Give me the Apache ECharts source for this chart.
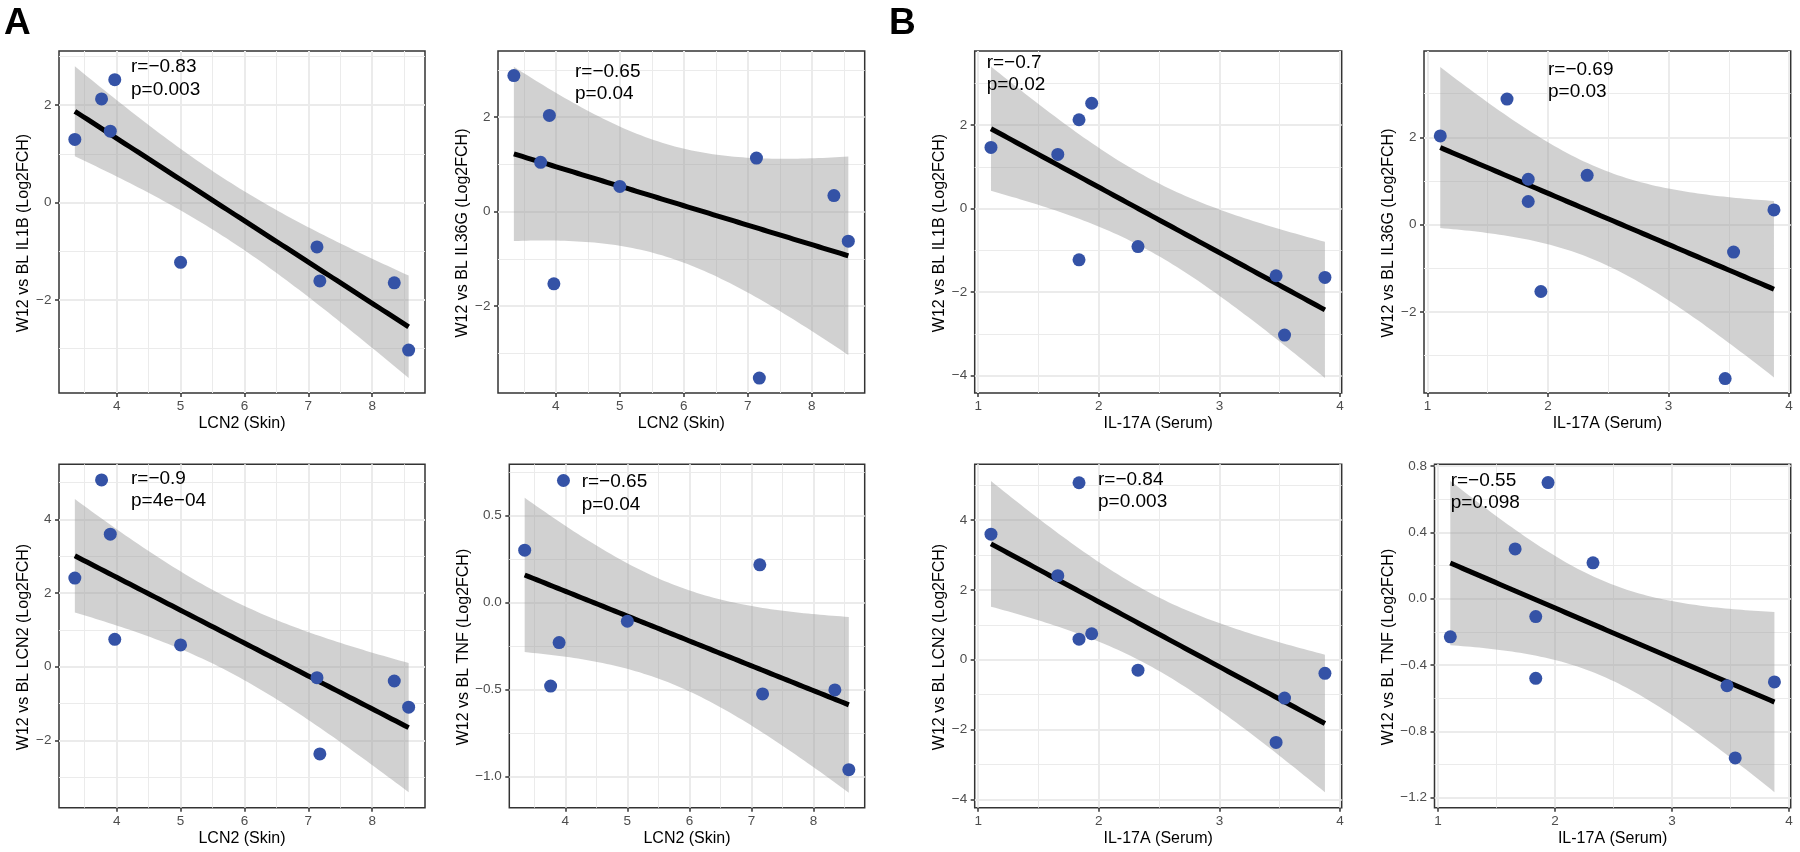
<!DOCTYPE html>
<html><head><meta charset="utf-8">
<script src="https://cdn.jsdelivr.net/npm/echarts@6/dist/echarts.min.js"></script>
<style>html,body{margin:0;padding:0;background:#fff}#c{width:1800px;height:852px}</style>
</head><body><div id="c"></div>
<script>
// ---------- data (9 subjects) ----------
const lcn2Skin   = [3.345, 3.763, 3.90, 3.97, 5.0, 7.135, 7.18, 8.345, 8.57];
const il17aSerum = [1.66, 1.836, 1.106, 1.941, 1.836, 2.325, 3.47, 3.875, 3.54];
const il1bFC  = [1.295, 2.125, 1.463, 2.52, -1.227, -0.911, -1.609, -1.648, -3.028];
const il36gFC = [2.876, 1.04, 2.033, -1.53, 0.53, 1.13, -3.525, 0.338, -0.628];
const lcn2FC  = [2.405, 5.068, 3.596, 0.742, 0.588, -0.30, -2.371, -0.39, -1.10];
const tnfFC   = [0.30, -0.48, -0.23, 0.70, -0.108, 0.216, -0.525, -0.502, -0.96];

// tick labels
const skinTicks = [4, 5, 6, 7, 8];
const skinMinor = [3.5, 4.5, 5.5, 6.5, 7.5, 8.5];
const serumTicks = [1, 2, 3, 4];
const serumMinor = [1.5, 2.5, 3.5];
const fcTicksA = [-2, 0, 2];
const fcTicksB = [-4, -2, 0, 2];
const fcTicksC = [-2, 0, 2, 4];
const fcTicksD = [-4, -2, 0, 2, 4];
const fcMinorA = [-3, -1, 1, 3];
const fcMinorC = [-3, -1, 1, 3, 5];
const tnfTicksA = [-1, -0.5, 0, 0.5];
const tnfMinorA = [-0.75, -0.25, 0.25, 0.75];
const tnfTicksB = [-1.2, -0.8, -0.4, 0, 0.4, 0.8];
const tnfMinorB = [-1.0, -0.6, -0.2, 0.2, 0.6];

// correlation labels
const rLabels = ['r=−0.83', 'r=−0.65', 'r=−0.7', 'r=−0.69', 'r=−0.9', 'r=−0.65', 'r=−0.84', 'r=−0.55'];
const pLabels = ['p=0.003', 'p=0.04', 'p=0.02', 'p=0.03', 'p=4e−04', 'p=0.04', 'p=0.003', 'p=0.098'];

// ---------- layout / style ----------
const FONT = '"Liberation Sans", Arial, Helvetica, sans-serif';
const T_CRIT = 1.943;   // multiplier of the confidence band
const xVars = {
  skin:  {values: lcn2Skin,   title: 'LCN2 (Skin)',    ticks: skinTicks,  minor: skinMinor,  range: [3.097, 8.826]},
  serum: {values: il17aSerum, title: 'IL-17A (Serum)', ticks: serumTicks, minor: serumMinor, range: [0.971, 4.014]}
};
const panels = [
  {xv:'skin',  y:il1bFC,  yt:'W12 vs BL IL1B (Log2FCH)',  yr:[-3.908,3.108], ticks:fcTicksA, minor:fcMinorA, dec:0, g:[59,51,366,342],       ann:[131,67],     gap:27.5},
  {xv:'skin',  y:il36gFC, yt:'W12 vs BL IL36G (Log2FCH)', yr:[-3.841,3.397], ticks:fcTicksA, minor:fcMinorA, dec:0, g:[498,51,366.7,342],    ann:[575,71.7],   gap:27},
  {xv:'serum', y:il1bFC,  yt:'W12 vs BL IL1B (Log2FCH)',  yr:[-4.415,3.771], ticks:fcTicksB, minor:fcMinorA, dec:0, g:[974.7,51,367,342],    ann:[986.7,62.7], gap:27},
  {xv:'serum', y:il36gFC, yt:'W12 vs BL IL36G (Log2FCH)', yr:[-3.855,3.977], ticks:fcTicksA, minor:fcMinorA, dec:0, g:[1424,51,366.7,342],   ann:[1548,69.7],  gap:27},
  {xv:'skin',  y:lcn2FC,  yt:'W12 vs BL LCN2 (Log2FCH)',  yr:[-3.83,5.493],  ticks:fcTicksC, minor:fcMinorC, dec:0, g:[59,464.3,366,343.4],  ann:[131,478.3],  gap:27},
  {xv:'skin',  y:tnfFC,   yt:'W12 vs BL TNF (Log2FCH)',   yr:[-1.178,0.793], ticks:tnfTicksA, minor:tnfMinorA, dec:1, g:[509.3,464.3,355.4,343.4], ann:[581.7,482], gap:37.5},
  {xv:'serum', y:lcn2FC,  yt:'W12 vs BL LCN2 (Log2FCH)',  yr:[-4.24,5.596],  ticks:fcTicksD, minor:fcMinorC, dec:0, g:[974.7,464.3,367,343.4], ann:[1098,479.7], gap:27},
  {xv:'serum', y:tnfFC,   yt:'W12 vs BL TNF (Log2FCH)',   yr:[-1.26,0.81],   ticks:tnfTicksB, minor:tnfMinorB, dec:1, g:[1434.5,464.3,356.2,343.4], ann:[1450.7,480.3], gap:37}
];

// linear model fit + confidence band (as geom_smooth(method = "lm"))
function lmBand(xs, ys) {
  const n = xs.length;
  const xb = xs.reduce((a, b) => a + b, 0) / n;
  const yb = ys.reduce((a, b) => a + b, 0) / n;
  let sxx = 0, sxy = 0;
  for (let i = 0; i < n; i++) { sxx += (xs[i] - xb) ** 2; sxy += (xs[i] - xb) * (ys[i] - yb); }
  const b = sxy / sxx, a = yb - b * xb;
  let sse = 0;
  for (let i = 0; i < n; i++) sse += (ys[i] - a - b * xs[i]) ** 2;
  const s = Math.sqrt(sse / (n - 2));
  const lo = Math.min(...xs), hi = Math.max(...xs);
  const out = [];
  const N = 80;
  for (let k = 0; k < N; k++) {
    const x = lo + (hi - lo) * k / (N - 1);
    const yh = a + b * x;
    const se = s * Math.sqrt(1 / n + (x - xb) ** 2 / sxx);
    out.push([x, yh, yh - T_CRIT * se, yh + T_CRIT * se]);
  }
  return out;
}

const fmt = dec => v => (dec ? v.toFixed(dec) : String(Math.round(v))).replace('-', '−');

const grid = [], xAxis = [], yAxis = [], series = [], graphic = [];
panels.forEach((p, i) => {
  const xv = xVars[p.xv];
  grid.push({left: p.g[0], top: p.g[1], width: p.g[2], height: p.g[3], show: true,
    borderColor: '#333333', borderWidth: 1.5, backgroundColor: '#fff', containLabel: false, outerBoundsMode: 'none'});
  const tickStyle = {show: true, length: 4, lineStyle: {color: '#333333', width: 1.5}};
  const lab = {color: '#4D4D4D', fontSize: 13.5, fontFamily: FONT};
  xAxis.push({type: 'value', gridIndex: i, min: xv.range[0], max: xv.range[1], position: 'bottom',
    name: xv.title, nameLocation: 'middle', nameGap: 23,
    nameTextStyle: {color: '#000', fontSize: 16, fontFamily: FONT},
    axisLine: {show: false, onZero: false},
    axisTick: Object.assign({customValues: xv.ticks}, tickStyle),
    axisLabel: Object.assign({customValues: xv.ticks, margin: 6.5, formatter: fmt(0)}, lab),
    splitLine: {show: true, lineStyle: {color: '#EBEBEB', width: 2}}, z: 1});
  xAxis.push({type: 'value', gridIndex: i, min: xv.range[0], max: xv.range[1], position: 'bottom',
    axisLine: {show: false, onZero: false}, axisTick: {show: false, customValues: xv.minor}, axisLabel: {show: false},
    splitLine: {show: true, lineStyle: {color: '#EBEBEB', width: 1}}, z: 0});
  yAxis.push({type: 'value', gridIndex: i, min: p.yr[0], max: p.yr[1], position: 'left',
    name: p.yt, nameLocation: 'middle', nameGap: p.gap, nameRotate: 90,
    nameTextStyle: {color: '#000', fontSize: 16, fontFamily: FONT, padding: [0, 22, 0, 0]},
    axisLine: {show: false, onZero: false},
    axisTick: Object.assign({customValues: p.ticks}, tickStyle),
    axisLabel: Object.assign({customValues: p.ticks, margin: 7.5, formatter: fmt(p.dec)}, lab),
    splitLine: {show: true, lineStyle: {color: '#EBEBEB', width: 2}}, z: 1});
  yAxis.push({type: 'value', gridIndex: i, min: p.yr[0], max: p.yr[1], position: 'left',
    axisLine: {show: false, onZero: false}, axisTick: {show: false, customValues: p.minor}, axisLabel: {show: false},
    splitLine: {show: true, lineStyle: {color: '#EBEBEB', width: 1}}, z: 0});

  const band = lmBand(xv.values, p.y);
  const xi = 2 * i, yi = 2 * i;
  series.push({type: 'custom', xAxisIndex: xi, yAxisIndex: yi, silent: true, clip: true, z: 2,
    data: band.map(d => [d[0], d[2], d[3]]),
    encode: {x: 0, y: [1, 2]},
    renderItem: (params, api) => {
      if (params.dataIndex !== 0) return null;
      const pts = [];
      band.forEach(d => pts.push(api.coord([d[0], d[3]])));
      for (let k = band.length - 1; k >= 0; k--) pts.push(api.coord([band[k][0], band[k][2]]));
      return {type: 'polygon', shape: {points: pts}, style: {fill: 'rgba(153,153,153,0.45)'}};
    }});
  series.push({type: 'line', xAxisIndex: xi, yAxisIndex: yi, silent: true, z: 3,
    data: band.map(d => [d[0], d[1]]), showSymbol: false, symbol: 'none',
    lineStyle: {color: '#000', width: 5, cap: 'butt'}});
  series.push({type: 'scatter', xAxisIndex: xi, yAxisIndex: yi, silent: true, z: 4,
    data: xv.values.map((x, k) => [x, p.y[k]]), symbolSize: 13,
    itemStyle: {color: '#3452A6', opacity: 1}});

  graphic.push({type: 'text', x: p.ann[0], y: p.ann[1], silent: true, z: 100,
    style: {text: rLabels[i], fill: '#000', fontSize: 19, fontFamily: FONT, align: 'left', verticalAlign: 'middle'}});
  graphic.push({type: 'text', x: p.ann[0], y: p.ann[1] + 22.5, silent: true, z: 100,
    style: {text: pLabels[i], fill: '#000', fontSize: 19, fontFamily: FONT, align: 'left', verticalAlign: 'middle'}});
});
graphic.push({type: 'text', x: 4, y: 23.5, z: 100, style: {text: 'A', fill: '#000', fontSize: 37, fontWeight: 'bold', fontFamily: FONT, align: 'left', verticalAlign: 'middle'}});
graphic.push({type: 'text', x: 889, y: 23.5, z: 100, style: {text: 'B', fill: '#000', fontSize: 37, fontWeight: 'bold', fontFamily: FONT, align: 'left', verticalAlign: 'middle'}});

const chart = echarts.init(document.getElementById('c'), null, {renderer: 'canvas'});
chart.setOption({animation: false, backgroundColor: '#fff', grid, xAxis, yAxis, series, graphic});
</script></body></html>
